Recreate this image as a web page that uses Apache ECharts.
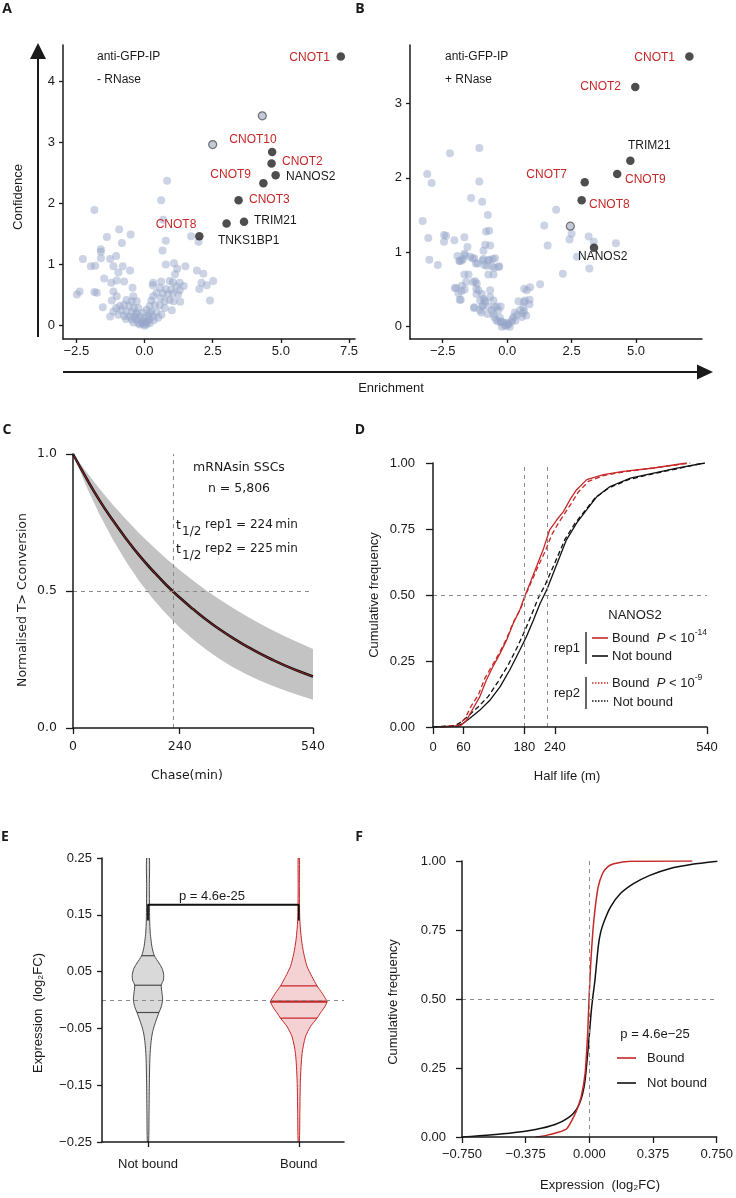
<!DOCTYPE html>
<html><head><meta charset="utf-8">
<script src="https://cdn.jsdelivr.net/npm/echarts@6/dist/echarts.min.js"></script>
<style>html,body{margin:0;padding:0;background:#fff}#c{width:736px;height:1198px}</style>
</head><body><div id="c"></div>
<script>
// ---------- Panel A: anti-GFP-IP - RNase ----------
const aGray = [[0.83,2.37],[0.61,2.05],[-1.84,1.89],[0.68,1.73],[-0.93,1.57],[-0.51,1.49],[-1.38,1.45],[-0.83,1.35],[1.71,1.46],[1.98,1.37],[0.78,1.39],[-1.6,1.25],[-1.6,1.21],[0.66,1.23],[-2.26,1.09],[-1.6,1.1],[-1.04,1.14],[-1.26,1.09],[-1.97,0.97],[-1.81,0.98],[-1.14,0.97],[-0.8,0.97],[-0.53,0.9],[-0.96,0.87],[0.78,1.0],[1.08,1.02],[1.2,0.93],[1.12,0.84],[1.5,0.97],[1.92,0.9],[2.16,0.85],[-1.48,0.77],[-1.22,0.7],[-1.02,0.74],[-0.75,0.72],[-0.44,0.62],[-2.38,0.56],[-2.48,0.51],[-1.84,0.55],[-1.75,0.54],[2.09,0.7],[2.28,0.66],[2.52,0.73],[2.01,0.6],[2.4,0.41],[1.31,0.39],[-1.14,0.56],[-1.02,0.48],[-1.2,0.41],[-1.53,0.3],[-0.9,0.32],
[0.32,0.7],[0.3,0.66],[0.61,0.72],[0.92,0.73],[1.04,0.71],[1.29,0.7],[1.44,0.65],[0.56,0.62],[0.78,0.6],[0.98,0.59],[1.17,0.64],[1.29,0.58],[0.68,0.53],[0.86,0.51],[1.04,0.53],[1.23,0.51],[0.92,0.42],[1.07,0.4],[0.74,0.4],[0.59,0.45],[0.44,0.54],[0.32,0.48],[0.25,0.41],[0.38,0.34],[0.56,0.33],[0.74,0.29],[1.0,0.25],[0.19,0.32],[0.07,0.26],[0.25,0.23],[0.44,0.22],[0.62,0.18],[-0.05,0.21],[0.13,0.16],[0.32,0.15],[0.5,0.13],[-0.17,0.15],[0.01,0.13],[0.17,0.1],[0.34,0.09],[-0.11,0.09],[0.05,0.06],[0.19,0.04],[-0.05,0.03],[0.07,0.02],[0,0],
[-0.41,0.48],[-0.29,0.4],[-0.47,0.4],[-0.66,0.42],[-0.75,0.34],[-0.56,0.32],[-0.39,0.29],[-0.23,0.29],[-0.84,0.25],[-0.66,0.23],[-0.47,0.22],[-0.29,0.21],[-0.96,0.18],[-0.75,0.16],[-0.56,0.15],[-0.38,0.14],[-0.68,0.11],[-0.47,0.1],[-0.29,0.1],[-0.41,0.05],[-0.23,0.04],[-0.17,0.02],[-1.14,0.23],[-1.04,0.29],[-1.26,0.15],[-0.1,0.05],[0.12,0.07],[-0.3,0.18],[0.2,0.2]];
const aRing = [[4.32,3.43],[2.5,2.96]];
const aHit = [[7.2,4.4],[4.68,2.84],[4.66,2.65],[4.81,2.46],[4.36,2.33],[3.45,2.05],[3.65,1.7],[3.01,1.67],[2.01,1.46]];

// ---------- Panel B: anti-GFP-IP + RNase ----------
const bGray = [[-3.10,2.05],[-2.93,1.93],[-2.22,2.33],[-1.08,2.40],[-1.08,1.95],[-1.40,1.73],[-0.97,1.68],[-0.75,1.50],[-3.28,1.42],[-3.06,1.19],[-3.02,0.90],[-2.69,0.83],[-2.45,1.23],[-2.37,1.22],[-2.45,1.14],[-2.05,1.16],[-1.66,1.20],[-1.54,1.07],[-1.66,0.98],[-1.93,0.95],[-1.76,0.89],[-1.85,0.88],[-1.44,0.94],[-1.28,0.92],[-1.15,0.85],[-0.92,1.02],[-0.85,1.10],[-0.66,1.09],[-0.82,1.28],[-0.70,1.29],[-0.92,0.91],[-0.73,0.89],[-0.47,0.92],[-0.79,0.82],[-0.58,0.81],[-0.31,0.81],[-1.66,0.70],[-1.50,0.70],[-0.73,0.70],[-0.53,0.70],[-1.59,0.60],[-1.24,0.61],[-1.18,0.58],[-1.98,0.52],[-1.76,0.55],[-1.89,0.45],[-1.65,0.50],[-1.80,0.36],[-1.20,0.51],[-1.11,0.49],[-0.98,0.44],[-0.66,0.49],[-0.92,0.37],[-1.05,0.35],[-0.85,0.33],[-0.66,0.40],[-1.28,0.25],[-1.05,0.22],[-0.73,0.27],[-0.53,0.35],[-0.40,0.27],[-0.25,0.27],[-0.76,0.17],[-0.53,0.17],[-0.34,0.22],[-0.43,0.09],[-0.25,0.07],[-0.36,0.07],[-0.14,0.06],[-0.21,0.0],[-0.04,0.01],[0.05,0.03],[0.18,0.07],[0.25,0.13],[0.38,0.16],[0.50,0.22],[0.66,0.21],[0.44,0.34],[0.66,0.33],[0.87,0.36],[0.76,0.49],[0.89,0.53],[0.61,0.18],[0.74,0.15],[0.57,0.13],[0.87,0.30],[1.28,0.57],[1.44,1.36],[1.57,1.09],[1.90,1.57],[2.16,0.71],[2.42,1.17],[2.50,1.25],[2.71,0.94],[3.16,1.21],[3.36,1.14],[3.19,0.78],[4.22,1.12],[0.0,0.05],[0.1,0.0],[-0.1,0.02],[0.2,0.1],[0.32,0.08],[-0.28,0.12],[-0.6,0.22],[-0.95,0.28],
[-1.84,0.89],[-1.72,0.91],[-1.63,0.96],[-1.34,0.92],[-1.21,0.85],[-0.95,0.89],[-0.89,0.83],[-0.69,0.90],[-0.56,0.91],[-0.5,0.79],[-0.33,0.80],[-1.32,0.60],[-2.03,0.52],[-1.77,0.48],[-1.19,0.44],[-0.87,0.35],[-1.84,0.36],[-0.97,0.27],[-0.48,0.26],[-1.28,0.26],[-1.0,0.19],[-0.5,0.13],[-0.22,0.06],[0.04,0.04],[0.30,0.19],[0.62,0.26],[0.69,0.35],[0.66,0.51]];
const bRing = [[2.45,1.35]];
const bHit = [[7.07,3.63],[4.97,3.22],[4.78,2.23],[4.27,2.05],[3.01,1.94],[2.89,1.70],[3.37,1.06]];

// ---------- Panel C: decay ----------
const chaseT = [0,30,60,90,120,150,180,210,240,270,300,330,360,390,420,450,480,510,540];
const decayMean = [1,0.912,0.83,0.757,0.69,0.628,0.573,0.522,0.476,0.434,0.395,0.36,0.328,0.299,0.272,0.248,0.226,0.206,0.188];
const bandUpper = [1,0.935,0.872,0.814,0.76,0.709,0.662,0.618,0.577,0.538,0.502,0.469,0.438,0.409,0.381,0.356,0.332,0.31,0.288];
const bandLower = [1,0.882,0.778,0.687,0.606,0.534,0.471,0.416,0.367,0.324,0.286,0.252,0.222,0.196,0.173,0.153,0.135,0.119,0.103];

// ---------- Panel D: half-life CDFs ----------
const dBoundRep1 = [[13,0],[53,0.003],[66,0.025],[79,0.07],[92,0.114],[105,0.177],[118,0.228],[132,0.278],[145,0.329],[158,0.392],[171,0.443],[181,0.496],[191,0.544],[204,0.608],[217,0.671],[230,0.747],[244,0.785],[257,0.816],[270,0.861],[283,0.899],[303,0.937],[336,0.956],[375,0.968],[435,0.981],[500,1.0]];
const dNotRep1 = [[0,0],[46,0.003],[59,0.013],[72,0.032],[92,0.063],[112,0.101],[132,0.152],[151,0.215],[171,0.291],[184,0.342],[198,0.405],[211,0.468],[224,0.519],[237,0.582],[250,0.646],[263,0.709],[283,0.772],[303,0.823],[323,0.873],[349,0.911],[389,0.943],[435,0.962],[481,0.981],[536,1.0]];
const dBoundRep2 = [[13,0],[49,0.006],[63,0.032],[76,0.082],[89,0.12],[102,0.184],[117,0.234],[132,0.285],[145,0.335],[159,0.399],[173,0.449],[184,0.506],[194,0.551],[207,0.608],[221,0.665],[234,0.728],[247,0.772],[260,0.81],[273,0.848],[286,0.889],[306,0.93],[336,0.952],[375,0.966],[435,0.981],[507,1.0]];
const dNotRep2 = [[0,0],[43,0.005],[56,0.019],[69,0.041],[89,0.076],[109,0.116],[128,0.171],[148,0.234],[168,0.31],[181,0.365],[194,0.424],[207,0.487],[221,0.538],[234,0.595],[247,0.652],[260,0.711],[280,0.772],[300,0.82],[319,0.867],[346,0.905],[385,0.937],[435,0.96],[481,0.978],[533,1.0]];

// ---------- Panel E: violins ----------
const eCats = ['Not bound','Bound'];
const nbY  = [0.25,0.20,0.141,0.118,0.106,0.094,0.078,0.065,0.056,0.045,0.035,0.026,0.012,0.0,-0.012,-0.022,-0.035,-0.047,-0.058,-0.075,-0.1,-0.15,-0.2,-0.25];
const nbHW = [0.009,0.009,0.011,0.015,0.020,0.026,0.042,0.073,0.093,0.104,0.102,0.088,0.093,0.097,0.088,0.073,0.055,0.040,0.029,0.020,0.013,0.009,0.007,0.004];
const nbQ  = [0.078,0.026,-0.022];
const bY   = [0.25,0.2,0.141,0.106,0.082,0.059,0.041,0.025,0.012,0.0,-0.003,-0.012,-0.023,-0.032,-0.047,-0.065,-0.094,-0.141,-0.2,-0.25];
const bHW  = [0.004,0.004,0.007,0.018,0.033,0.055,0.088,0.121,0.155,0.183,0.188,0.172,0.143,0.121,0.077,0.044,0.022,0.011,0.007,0.004];
const bQ   = [0.025,-0.003,-0.032];
const eBracket = [[1,0.140],[1,0.1677],[2,0.1677],[2,0.140]];

// ---------- Panel F: expression CDFs ----------
const fNot = [[-0.75,0],[-0.471,0.014],[-0.317,0.027],[-0.202,0.045],[-0.125,0.069],[-0.077,0.099],[-0.044,0.147],[-0.025,0.207],[-0.006,0.328],[0.010,0.448],[0.019,0.5],[0.033,0.569],[0.052,0.689],[0.067,0.743],[0.09,0.786],[0.125,0.834],[0.183,0.882],[0.26,0.918],[0.356,0.948],[0.471,0.972],[0.606,0.988],[0.754,0.999]];
const fBound = [[-0.317,0],[-0.26,0.005],[-0.183,0.017],[-0.135,0.029],[-0.106,0.057],[-0.077,0.093],[-0.048,0.147],[-0.025,0.231],[-0.01,0.376],[-0.002,0.5],[0.008,0.629],[0.021,0.749],[0.035,0.834],[0.052,0.906],[0.077,0.954],[0.106,0.978],[0.144,0.99],[0.24,0.999],[0.606,1.0]];

// ---------- styling ----------
const FONT = '"Liberation Sans", Arial, sans-serif';
const FONT_C = '"DejaVu Sans", sans-serif';
const RED = '#c62828';
const INK = '#1a1a1a';
const GRAYPT = 'rgba(150,166,200,0.62)';

const fm = d => v => (v < 0 ? '\u2212' : '') + Math.abs(v).toFixed(d);

function axis(gi, min, max, ticks, fmt, o) {
  o = o || {};
  return {
    type: 'value', gridIndex: gi, min, max, z: 10,
    axisLine: {show: true, onZero: false, lineStyle: {color: INK, width: 1.5}},
    axisTick: {show: true, length: o.tl || 4, customValues: ticks, lineStyle: {color: INK, width: 1.3}},
    axisLabel: {show: true, customValues: ticks, formatter: fmt, color: INK,
      fontFamily: o.family || FONT, fontSize: o.fs || 13, margin: o.m || 7},
    splitLine: {show: false}
  };
}

const grids = [
  {left: 63, top: 45, width: 292, height: 294},
  {left: 410, top: 45, width: 292, height: 294},
  {left: 73, top: 454, width: 240, height: 274},
  {left: 433, top: 463, width: 274, height: 264},
  {left: 102, top: 858, width: 242, height: 284},
  {left: 462, top: 861, width: 260, height: 276}
];

const xAxes = [
  axis(0, -2.99, 7.72, [-2.5,0,2.5,5,7.5], fm(1), {m: 6}),
  axis(1, -3.77, 7.56, [-2.5,0,2.5,5], fm(1), {m: 6}),
  axis(2, 0, 540, [0,240,540], v => String(v), {tl: 6, m: 12, family: FONT_C, fs: 12.5}),
  axis(3, 0, 540, [0,60,180,240,540], v => String(v), {tl: 7, m: 14}),
  axis(4, 0.695, 2.30, [1,2], v => eCats[Math.round(v) - 1], {tl: 5, m: 16}),
  axis(5, -0.75, 0.75, [-0.75,-0.375,0,0.375,0.75], fm(3), {tl: 6, m: 11})
];
const yAxes = [
  axis(0, -0.218, 4.588, [0,1,2,3,4], v => String(v), {m: 8}),
  axis(1, -0.166, 3.785, [0,1,2,3], v => String(v), {m: 8}),
  axis(2, 0, 1, [0,0.5,1], fm(1), {tl: 7, m: 16, family: FONT_C, fs: 12.5}),
  axis(3, 0, 1, [0,0.25,0.5,0.75,1], fm(2), {tl: 7, m: 18}),
  axis(4, -0.25, 0.25, [-0.25,-0.15,-0.05,0.05,0.15,0.25], fm(2), {tl: 5, m: 10}),
  axis(5, 0, 1, [0,0.25,0.5,0.75,1], fm(2), {tl: 6, m: 16})
];

const dash = {type: [4, 4], color: '#8a8a8a', width: 1};
function mark(list) {
  return {silent: true, symbol: 'none', label: {show: false}, lineStyle: dash, data: list, animation: false};
}

function scatter(gi, data, style, size) {
  return {type: 'scatter', xAxisIndex: gi, yAxisIndex: gi, data, symbolSize: size, itemStyle: style, silent: true, z: 3};
}

function violinSeries(gi) {
  const sets = [
    {c: 1, y: nbY, hw: nbHW, q: nbQ, fill: '#d9d9d9', stroke: '#4a4a4a', qw: [1.2, 1.2, 1.2]},
    {c: 2, y: bY, hw: bHW, q: bQ, fill: '#f4d2d3', stroke: RED, qw: [1.3, 2.2, 1.3]}
  ];
  return {
    type: 'custom', xAxisIndex: gi, yAxisIndex: gi, data: [[1, 0], [2, 0]], silent: true, z: 2, clip: true,
    renderItem(params, api) {
      const v = sets[params.dataIndex];
      const right = [], left = [];
      for (let i = 0; i < v.y.length; i++) {
        right.push(api.coord([v.c + v.hw[i], v.y[i]]));
        left.push(api.coord([v.c - v.hw[i], v.y[i]]));
      }
      const pts = right.concat(left.reverse());
      const children = [{type: 'polygon', shape: {points: pts, smooth: 0.25}, style: {fill: v.fill, stroke: v.stroke, lineWidth: 1}}];
      v.q.forEach((q, k) => {
        let w = 0;
        for (let i = 0; i < v.y.length - 1; i++) {
          if (v.y[i] >= q && v.y[i + 1] <= q) {
            const t = (v.y[i] - q) / (v.y[i] - v.y[i + 1]);
            w = v.hw[i] + t * (v.hw[i + 1] - v.hw[i]);
            break;
          }
        }
        const p1 = api.coord([v.c - w, q]), p2 = api.coord([v.c + w, q]);
        children.push({type: 'line', shape: {x1: p1[0], y1: p1[1], x2: p2[0], y2: p2[1]}, style: {stroke: v.stroke, lineWidth: v.qw[k]}});
      });
      return {type: 'group', children};
    }
  };
}

function bandSeries(gi) {
  return {
    type: 'custom', xAxisIndex: gi, yAxisIndex: gi, data: [[0, 1]], silent: true, z: 1,
    renderItem(params, api) {
      const pts = [];
      for (let i = 0; i < chaseT.length; i++) pts.push(api.coord([chaseT[i], bandUpper[i]]));
      for (let i = chaseT.length - 1; i >= 0; i--) pts.push(api.coord([chaseT[i], bandLower[i]]));
      return {type: 'polygon', shape: {points: pts}, style: {fill: '#c3c3c3'}};
    }
  };
}

function line(gi, data, color, width, type, extra) {
  return Object.assign({type: 'line', xAxisIndex: gi, yAxisIndex: gi, data, showSymbol: false, symbol: 'none', silent: true,
    lineStyle: {color, width, type: type || 'solid'}, z: 4}, extra || {});
}

const series = [
  scatter(0, aGray, {color: GRAYPT}, 8),
  scatter(0, aRing, {color: 'rgba(165,176,198,0.85)', borderColor: '#555', borderWidth: 1.2}, 8),
  scatter(0, aHit, {color: '#222'}, 8.5),
  scatter(1, bGray, {color: GRAYPT}, 8),
  scatter(1, bRing, {color: 'rgba(165,176,198,0.85)', borderColor: '#555', borderWidth: 1.2}, 8),
  scatter(1, bHit, {color: '#222'}, 8.5),
  bandSeries(2),
  line(2, chaseT.map((t, i) => [t, decayMean[i]]), '#111', 2.6, 'solid', {smooth: true}),
  line(2, chaseT.map((t, i) => [t, decayMean[i]]), RED, 0.8, 'solid', {smooth: true, z: 5,
    markLine: mark([{xAxis: 225}, {yAxis: 0.5}])}),
  line(3, dNotRep2, '#111', 1.3, [5, 3]),
  line(3, dNotRep1, '#111', 1.3),
  line(3, dBoundRep2, RED, 1.3, [5, 3]),
  line(3, dBoundRep1, RED, 1.3, 'solid', {markLine: mark([{xAxis: 180}, {xAxis: 225}, {yAxis: 0.5}])}),
  violinSeries(4),
  line(4, eBracket, '#111', 1.8, 'solid', {markLine: mark([{yAxis: 0}])}),
  line(5, fNot, '#111', 1.5, 'solid', {smooth: 0.2}),
  line(5, fBound, RED, 1.5, 'solid', {smooth: 0.2, markLine: mark([{xAxis: 0}, {yAxis: 0.5}])})
];

// ---------- annotation helpers ----------
function txt(x, y, text, o) {
  o = o || {};
  const al = o.align || 'left';
  const st = {text, fill: o.color || INK,
    font: `${o.style || 'normal'} ${o.weight || 'normal'} ${o.size || 13}px ${o.family || FONT}`,
    textAlign: al, align: al, textVerticalAlign: 'middle', verticalAlign: 'middle'};
  if (o.rich) st.rich = o.rich;
  return {type: 'text', x, y, rotation: o.rot || 0, silent: true, z: 100, style: st};
}
function seg(x1, y1, x2, y2, color, w, dashArr) {
  return {type: 'line', silent: true, z: 100, shape: {x1, y1, x2, y2}, style: {stroke: color, lineWidth: w, lineDash: dashArr || null}};
}
const R90 = Math.PI / 2;
const richSup = {
  a: {fontSize: 13, fontFamily: FONT, color: INK, lineHeight: 20, verticalAlign: 'middle'},
  i: {fontSize: 13, fontFamily: FONT, fontStyle: 'italic', color: INK, lineHeight: 20, verticalAlign: 'middle'},
  s: {fontSize: 8.5, fontFamily: FONT, color: INK, lineHeight: 10, verticalAlign: 'top'}
};
const LETTER = {weight: 'bold', size: 14, family: '"Open Sans", sans-serif', align: 'center'};

const graphics = [
  // panel letters
  txt(7, 9, 'A', LETTER),
  txt(360, 9, 'B', LETTER),
  txt(7, 430, 'C', LETTER),
  txt(360, 430, 'D', LETTER),
  txt(5, 837, 'E', LETTER),
  txt(359, 837, 'F', LETTER),

  // big arrows A/B
  seg(38, 337, 38, 56, INK, 2),
  {type: 'polygon', silent: true, z: 100, shape: {points: [[38, 43], [30, 59], [46, 59]]}, style: {fill: INK}},
  seg(63, 372, 700, 372, INK, 2),
  {type: 'polygon', silent: true, z: 100, shape: {points: [[713, 372], [697, 364.5], [697, 379.5]]}, style: {fill: INK}},
  txt(18, 197, 'Confidence', {rot: R90, align: 'center'}),
  txt(391, 388, 'Enrichment', {align: 'center'}),

  // panel A texts
  txt(97, 57, 'anti-GFP-IP', {size: 12}),
  txt(97, 80, '- RNase', {size: 12}),
  txt(330, 58, 'CNOT1', {size: 12, color: RED, align: 'right'}),
  txt(253, 140, 'CNOT10', {size: 12, color: RED, align: 'center'}),
  txt(282, 162, 'CNOT2', {size: 12, color: RED}),
  txt(286, 177, 'NANOS2', {size: 12}),
  txt(251, 175, 'CNOT9', {size: 12, color: RED, align: 'right'}),
  txt(249, 200, 'CNOT3', {size: 12, color: RED}),
  txt(254, 221, 'TRIM21', {size: 12}),
  txt(176, 225, 'CNOT8', {size: 12, color: RED, align: 'center'}),
  txt(218, 241, 'TNKS1BP1', {size: 12}),

  // panel B texts
  txt(445, 57, 'anti-GFP-IP', {size: 12}),
  txt(445, 80, '+ RNase', {size: 12}),
  txt(675, 58, 'CNOT1', {size: 12, color: RED, align: 'right'}),
  txt(621, 87, 'CNOT2', {size: 12, color: RED, align: 'right'}),
  txt(628, 146, 'TRIM21', {size: 12}),
  txt(625, 180, 'CNOT9', {size: 12, color: RED}),
  txt(567, 175, 'CNOT7', {size: 12, color: RED, align: 'right'}),
  txt(589, 205, 'CNOT8', {size: 12, color: RED}),
  txt(578, 257, 'NANOS2', {size: 12}),

  // panel C texts
  txt(239, 468, 'mRNAsin SSCs', {size: 12.5, family: FONT_C, align: 'center'}),
  txt(239, 489, 'n = 5,806', {size: 12.5, family: FONT_C, align: 'center'}),
  txt(176, 526, 't', {size: 12.5, family: FONT_C}),
  txt(182, 532, '1/2', {size: 12, family: FONT_C}),
  txt(205, 525, 'rep1 = 224\u2009min', {size: 12, family: FONT_C}),
  txt(176, 550, 't', {size: 12.5, family: FONT_C}),
  txt(182, 556, '1/2', {size: 12, family: FONT_C}),
  txt(205, 549, 'rep2 = 225\u2009min', {size: 12, family: FONT_C}),
  txt(23, 600, 'Normalised T> Cconversion', {rot: R90, align: 'center', family: FONT_C, size: 12.5}),
  txt(187, 776, 'Chase(min)', {align: 'center', family: FONT_C, size: 12.5}),

  // panel D texts & legend
  txt(374, 595, 'Cumulative frequency', {rot: R90, align: 'center'}),
  txt(567, 776, 'Half life (m)', {align: 'center'}),
  txt(635, 615, 'NANOS2', {align: 'center'}),
  txt(567, 648, 'rep1', {align: 'center'}),
  seg(586, 632, 586, 664, '#333', 1.5),
  seg(592, 638, 608, 638, RED, 1.6),
  txt(612, 638, '{a|Bound  }{i|P}{a| < 10}{s|-14}', {rich: richSup}),
  seg(592, 656, 608, 656, '#111', 1.6),
  txt(612, 656, 'Not bound'),
  txt(567, 693, 'rep2', {align: 'center'}),
  seg(586, 677, 586, 709, '#333', 1.5),
  seg(592, 683, 608, 683, RED, 1.4, [1.5, 1.5]),
  txt(612, 683, '{a|Bound  }{i|P}{a| < 10}{s|-9}', {rich: richSup}),
  seg(592, 701, 608, 701, '#111', 1.4, [1.5, 1.5]),
  txt(613, 702, 'Not bound'),

  // panel E texts
  txt(38, 1013, 'Expression  (log\u2082FC)', {rot: R90, align: 'center'}),
  txt(212, 896, 'p = 4.6e-25', {align: 'center'}),

  // panel F texts & legend
  txt(393, 1002, 'Cumulative frequency', {rot: R90, align: 'center'}),
  txt(600, 1185, 'Expression  (log\u2082FC)', {align: 'center'}),
  txt(655, 1034, 'p = 4.6e\u221225', {align: 'center'}),
  seg(617, 1058, 636, 1058, RED, 1.6),
  txt(647, 1058, 'Bound'),
  seg(617, 1083, 636, 1083, '#111', 1.6),
  txt(647, 1083, 'Not bound')
];

const chart = echarts.init(document.getElementById('c'), null, {renderer: 'canvas'});
chart.setOption({
  animation: false,
  backgroundColor: '#fff',
  grid: grids,
  xAxis: xAxes,
  yAxis: yAxes,
  series,
  graphic: {elements: graphics}
});
</script>
</body></html>
